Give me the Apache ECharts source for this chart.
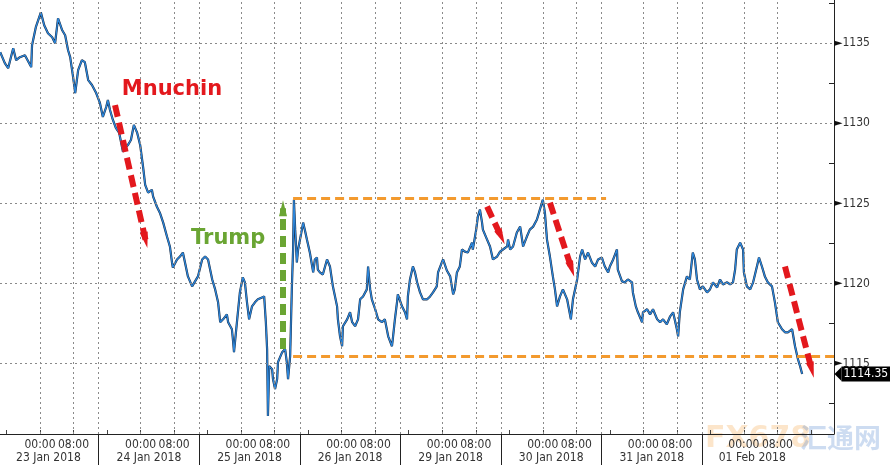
<!DOCTYPE html>
<html>
<head>
<meta charset="utf-8">
<script src="https://cdn.jsdelivr.net/npm/echarts@6/dist/echarts.min.js"></script>
<style>
html,body{margin:0;padding:0;background:#fff;}
#chart{width:890px;height:471px;}
</style>
</head>
<body>
<div id="chart"></div>
<script>
// Hours since 23 Jan 2018 00:00 (trading time, weekend removed)
const hours = [
-9.5,-8.4,-7.6,-6.4,-5.7,-4.8,-3.6,-2.1,-1.9,-1.0,
0.2,1.0,1.9,2.9,3.6,4.3,5.3,6.0,6.7,7.2,
7.9,8.4,9.1,10.0,10.7,11.5,12.4,13.4,14.3,15.0,
15.8,16.2,16.7,17.4,18.1,18.9,19.8,20.3,21.0,21.7,
22.4,23.2,23.9,24.6,25.1,25.8,26.7,27.0,27.9,28.6,
29.4,30.3,31.0,31.5,31.7,32.7,33.4,34.1,34.6,35.3,
36.3,37.0,37.7,38.7,39.4,40.1,41.1,41.8,42.5,43.0,
43.7,44.6,44.9,45.8,46.1,46.3,47.0,47.7,48.4,48.9,
49.4,49.9,50.6,51.3,52.0,53.0,53.5,53.9,54.2,54.4,
54.7,55.4,55.6,56.1,56.6,56.8,57.8,58.5,58.9,59.2,
59.7,60.1,60.4,60.6,60.9,61.3,61.6,62.5,62.8,63.2,
63.7,64.4,65.2,65.6,66.1,66.3,66.8,67.5,68.5,68.7,
69.2,69.9,70.9,71.1,71.6,72.1,72.3,73.3,74.0,74.5,
75.2,75.9,76.4,77.1,78.0,78.3,78.8,79.2,80.0,80.7,
81.6,82.3,83.1,84.0,84.2,84.7,85.2,85.4,86.4,87.1,
87.6,87.8,88.3,89.0,89.5,90.0,90.7,91.4,92.4,93.1,
93.8,94.7,95.0,95.9,96.2,97.1,97.9,98.6,99.0,99.5,
100.2,100.7,101.4,102.1,103.1,103.3,104.1,104.5,105.0,105.5,
105.7,106.7,107.4,108.1,109.1,109.8,110.5,111.5,111.7,112.2,
112.9,113.8,114.6,115.3,116.2,116.9,117.7,118.6,119.3,120.0,
120.5,121.0,121.7,122.4,122.9,123.4,124.1,124.8,125.8,126.7,
127.2,128.2,128.9,129.4,130.1,130.8,131.7,132.5,133.2,134.1,
134.8,135.6,136.0,136.8,137.7,137.9,138.9,139.6,140.3,141.3,
141.5,142.2,142.7,143.7,143.9,144.9,145.6,146.3,147.3,148.0,
148.7,149.6,150.4,151.1,152.0,152.3,152.7,153.5,154.4,155.1,
155.8,156.3,156.8,157.5,158.2,159.2,159.9,160.6,161.6,162.3,
163.0,164.0,164.7,165.4,165.9,166.3,167.1,167.8,168.0,168.7,
169.5,170.2,171.1,171.6,172.3,173.0,173.7,174.7,175.4,176.1,
177.1,177.8,178.5,179.5,180.2,180.9,181.4,181.9
];
const prices = [
1134.44,1133.76,1133.44,1134.69,1133.94,1134.13,1134.25,1133.51,1134.88,1136.0,
1136.93,1136.12,1135.62,1135.37,1135.0,1136.56,1135.81,1135.5,1134.56,1134.13,
1132.88,1131.89,1133.32,1133.94,1133.82,1132.70,1132.39,1131.89,1131.27,1130.40,
1131.02,1131.45,1130.83,1130.21,1129.71,1129.40,1128.22,1128.47,1128.65,1128.96,
1129.90,1129.40,1128.65,1127.28,1126.16,1125.67,1125.85,1125.42,1124.79,1124.42,
1123.80,1122.93,1122.31,1121.31,1121.0,1121.50,1121.68,1121.93,1121.31,1120.44,
1119.82,1120.13,1120.44,1121.50,1121.68,1121.50,1120.25,1119.63,1118.82,1117.58,
1117.76,1118.07,1117.58,1117.14,1116.33,1115.71,1117.58,1119.44,1120.38,1120.07,
1118.82,1117.76,1118.57,1118.82,1119.01,1119.13,1119.19,1117.58,1115.90,1111.73,
1114.84,1114.65,1114.03,1113.41,1114.03,1115.09,1115.71,1115.90,1115.09,1114.03,
1115.46,1119.63,1122.12,1125.23,1123.36,1121.31,1122.12,1123.36,1123.80,1123.36,
1122.74,1121.93,1120.69,1121.50,1121.62,1120.87,1120.69,1120.56,1121.50,1121.62,
1121.06,1119.82,1118.57,1117.76,1116.70,1116.08,1117.33,1117.76,1118.20,1117.58,
1117.33,1117.76,1119.01,1119.19,1119.63,1121.06,1119.63,1119.01,1118.39,1117.76,
1117.58,1117.76,1116.70,1116.08,1116.52,1117.76,1118.82,1119.32,1118.57,1118.20,
1117.76,1119.19,1120.25,1121.06,1120.69,1120.07,1119.44,1119.01,1119.01,1119.19,
1119.44,1119.82,1120.69,1121.31,1121.50,1120.81,1120.44,1119.32,1119.63,1120.69,
1121.06,1122.12,1121.99,1121.93,1122.55,1122.12,1123.36,1124.17,1124.61,1123.80,
1123.36,1122.74,1122.31,1121.50,1121.68,1121.99,1122.12,1122.31,1122.74,1122.12,
1122.31,1123.18,1123.55,1122.31,1122.93,1123.36,1123.55,1123.99,1124.61,1125.23,
1124.42,1122.74,1121.68,1120.44,1119.63,1118.57,1119.19,1119.63,1119.01,1117.76,
1119.01,1120.25,1121.68,1122.12,1121.50,1121.93,1121.31,1121.06,1121.50,1121.62,
1121.06,1120.69,1121.06,1121.50,1122.12,1120.87,1120.13,1120.07,1120.25,1120.07,
1119.44,1118.57,1118.20,1117.58,1118.20,1118.39,1118.07,1118.39,1117.76,1117.58,
1117.76,1117.45,1117.95,1118.20,1117.14,1116.70,1118.20,1119.63,1120.44,1120.25,
1121.93,1121.50,1120.25,1119.63,1119.82,1119.44,1119.63,1120.07,1119.75,1120.25,
1119.94,1120.07,1119.94,1120.07,1120.87,1122.12,1122.55,1122.12,1120.69,1119.82,
1119.63,1120.07,1121.06,1121.62,1121.06,1120.44,1120.07,1119.82,1118.82,1117.58,
1117.14,1116.95,1116.95,1117.14,1116.08,1115.27,1114.84,1114.35
];
const dayLabels = ['23 Jan 2018','24 Jan 2018','25 Jan 2018','26 Jan 2018','29 Jan 2018','30 Jan 2018','31 Jan 2018','01 Feb 2018'];
const timeLabels = ['00:00','08:00'];
const timeHours = [0, 8];
const sessionBreakHour = 14;
const yTickLabels = [1115, 1120, 1125, 1130, 1135];
const yMinorTicks = [1112.5, 1117.5, 1122.5, 1127.5, 1132.5, 1137.5];
const xRange = [-9.55, 189.5];
const yRange = [1110.6, 1137.7];
const resistanceLine = { from: 60.4, to: 135.1, level: 1125.29 };
const supportLine = { from: 60.4, to: 189.5, level: 1115.46 };
const redArrows = [
  [[17.9, 1131.14], [25.2, 1122.7]],
  [[106.7, 1124.8], [110.1, 1122.9]],
  [[121.7, 1125.04], [126.9, 1120.9]],
  [[177.8, 1121.06], [184.2, 1114.6]]
];
const greenArrow = [[58.0, 1115.9], [58.0, 1124.7]];
const notes = [
  { text: 'Mnuchin', at: [31.5, 1132.08], color: '#e3181d' },
  { text: 'Trump', at: [44.9, 1122.8], color: '#6aa533' }
];
const lastPrice = prices[prices.length - 1];

const font = 'DejaVu Sans';
const tickFont = "'DejaVu Sans Condensed', 'Liberation Sans', sans-serif";
const days = dayLabels.map((d, k) => k);
const timeTickVals = [];
days.forEach(k => timeHours.forEach(h => timeTickVals.push(24 * k + h)));
const innerTicks = [];
days.forEach(k => [0, 8, 16].forEach(h => { const v = 24 * k + h; if (v < xRange[1]) innerTicks.push(v); }));
innerTicks.unshift(-8);
const breakVals = days.slice(0, -1).map(k => 24 * k + sessionBreakHour);
const dayCenterVals = days.map(k => 24 * k + 2);

const gridLines = [];
yTickLabels.forEach(v => gridLines.push({ yAxis: v }));
timeTickVals.concat(breakVals).forEach(v => gridLines.push({ xAxis: v }));

const arrowLines = redArrows.map(a => [
  { coord: a[0], lineStyle: { color: '#e3181d', width: 6, type: [12, 6] }, symbolSize: [17, 21] },
  { coord: a[1] }
]);
arrowLines.push([
  { coord: greenArrow[0], lineStyle: { color: '#6aa533', width: 6, type: [11, 6] }, symbolSize: [15, 18] },
  { coord: greenArrow[1] }
]);
const levelLines = [resistanceLine, supportLine].map(l => [
  { coord: [l.from, l.level] }, { coord: [l.to, l.level] }
]);

const chart = echarts.init(document.getElementById('chart'));
chart.setOption({
  animation: false,
  backgroundColor: '#fff',
  grid: { left: 0, right: 56, top: 0, bottom: 37, containLabel: false },
  xAxis: [{
    type: 'value', min: xRange[0], max: xRange[1], position: 'bottom',
    axisLine: { show: true, onZero: false, lineStyle: { color: '#222', width: 1 } },
    axisTick: { show: true, inside: true, length: 4, customValues: innerTicks, lineStyle: { color: '#444' } },
    axisLabel: {
      show: true, customValues: timeTickVals, margin: 5,
      formatter: v => timeLabels[timeHours.indexOf(((v % 24) + 24) % 24)],
      color: '#333', fontFamily: tickFont, fontSize: 12
    },
    splitLine: { show: false }
  }, {
    type: 'value', min: xRange[0], max: xRange[1], position: 'bottom',
    axisLine: { show: false, onZero: false },
    axisTick: { show: true, length: 31, customValues: breakVals, lineStyle: { color: '#222', width: 1 } },
    axisLabel: {
      show: true, customValues: dayCenterVals, margin: 18,
      formatter: v => dayLabels[Math.round((v - 2) / 24)],
      color: '#333', fontFamily: tickFont, fontSize: 12
    },
    splitLine: { show: false }
  }],
  yAxis: {
    type: 'value', position: 'right', min: yRange[0], max: yRange[1],
    axisLine: { show: true, onZero: false, lineStyle: { color: '#222', width: 1 } },
    axisTick: { show: true, inside: true, length: 5, customValues: yMinorTicks, lineStyle: { color: '#222' } },
    axisLabel: {
      show: true, customValues: yTickLabels, margin: 0,
      formatter: v => '{a|►}{b|' + v + '}',
      rich: {
        a: { fontSize: 11, color: '#111', fontFamily: font },
        b: { fontSize: 12, color: '#333', fontFamily: tickFont }
      }
    },
    splitLine: { show: false }
  },
  series: [{
    type: 'line', xAxisIndex: 0, data: [[hours[0], prices[0]]], symbol: 'none', silent: true,
    lineStyle: { opacity: 0 },
    markLine: {
      silent: true, symbol: 'none', animation: false,
      label: { show: false },
      lineStyle: { color: '#8a8a8a', width: 1, type: [2, 3] },
      data: gridLines
    }
  }, {
    type: 'line', xAxisIndex: 0, data: hours.map((h, i) => [h, prices[i]]),
    symbol: 'none', silent: true,
    lineStyle: { color: '#1b2a40', width: 2.2 },
    z: 3
  }, {
    type: 'line', xAxisIndex: 0, data: hours.map((h, i) => [h, prices[i]]),
    symbol: 'none', silent: true,
    lineStyle: { color: '#2c86da', width: 1.3 },
    z: 4,
    markLine: {
      silent: true, symbol: 'none', animation: false, z: 5,
      label: { show: false },
      lineStyle: { color: '#f39a2e', width: 3, type: [9, 5] },
      data: levelLines
    },
    markPoint: {
      silent: true, animation: false,
      data: [{
        coord: [xRange[1], lastPrice], symbol: 'triangle', symbolSize: [14, 7], symbolRotate: 90,
        symbolOffset: [4, 0], itemStyle: { color: '#000' },
        label: {
          show: true, position: 'right', distance: 0, formatter: String(lastPrice),
          backgroundColor: '#000', color: '#fff', fontFamily: tickFont, fontSize: 12,
          padding: [2, 2, 1, 2]
        }
      }]
    }
  }, {
    type: 'line', xAxisIndex: 0, data: [], symbol: 'none', silent: true,
    z: 6,
    markLine: {
      silent: true, animation: false, symbol: ['none', 'triangle'],
      label: { show: false },
      data: arrowLines
    },
    markPoint: {
      silent: true, animation: false,
      data: notes.map(n => ({
        coord: n.at, symbol: 'circle', symbolSize: 0,
        label: {
          show: true, position: 'inside', formatter: n.text, color: n.color,
          fontFamily: font, fontWeight: 'bold', fontSize: 21
        }
      }))
    }
  }],
  graphic: [{
    type: 'text', left: 705, top: 424, silent: true, z: -1,
    style: { text: 'FX678', fontFamily: font, fontWeight: 'bold', fontSize: 30, fill: 'rgba(245,170,80,0.3)' }
  }, {
    type: 'text', left: 800, top: 424, silent: true, z: -1,
    style: { text: '汇通网', fontFamily: 'Noto Sans CJK SC', fontWeight: 'bold', fontSize: 27, fill: 'rgba(90,140,210,0.3)' }
  }]
});
</script>
</body>
</html>
